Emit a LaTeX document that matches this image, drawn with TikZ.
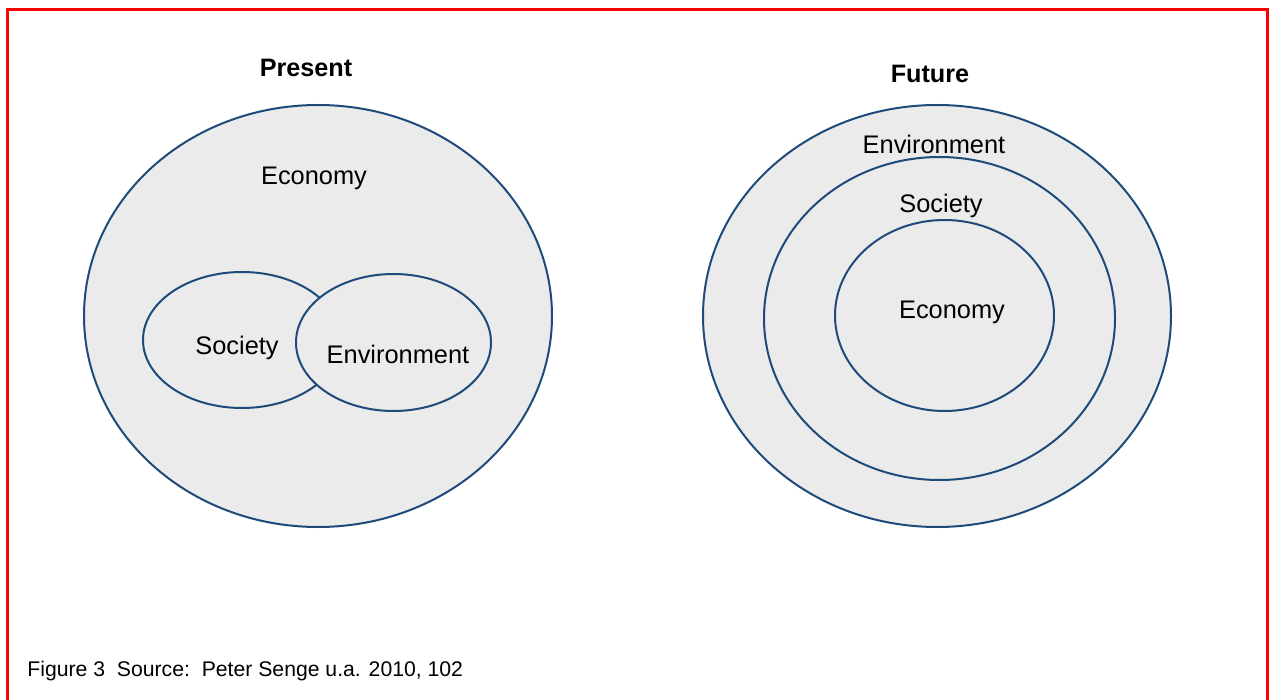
\documentclass[tikz,border=0pt]{standalone}
\usepackage{fontspec}
\setmainfont{Liberation Sans}
\usetikzlibrary{shapes.geometric}
\definecolor{ringblue}{RGB}{31,75,122}
\definecolor{ringfill}{RGB}{235,235,235}

\begin{document}
\begin{tikzpicture}[x=0.5pt,y=-0.5pt]
\tikzstyle{ring}=[draw=ringblue,fill=ringfill,line width=1pt,shape=ellipse,inner sep=0pt];
\tikzstyle{ringtext}=[inner sep=0pt,font=\fontsize{12.7}{15}\selectfont];
\tikzstyle{heading}=[inner sep=0pt,font=\bfseries\fontsize{12.6}{15}\selectfont];
\useasboundingbox (0,0) rectangle (1269,700);
\draw[red,line width=1.5pt] (7.5,720) -- (7.5,9.5) -- (1267.5,9.5) -- (1267.5,720);

% present
\node[heading] (present) at (306,68) {Present};
\node[ring,minimum width=234pt,minimum height=211pt] (economy) at (318,316) {};
\node[ring,minimum width=99pt,minimum height=68pt] (society) at (242,340) {};
\node[ring,minimum width=97.5pt,minimum height=68.5pt] (environment) at (393.5,342.5) {};
\node[ringtext] (economytext) at (314,178) {Economy};
\node[ringtext] (societytext) at (237,348) {Society};
\node[ringtext] (environmenttext) at (398,354) {Environment};

% future
\node[heading] (future) at (930,74) {Future};
\node[ring,minimum width=234pt,minimum height=211pt] (outer) at (937,316) {};
\node[ring,minimum width=175.5pt,minimum height=161.5pt] (middle) at (939.5,318.5) {};
\node[ring,minimum width=109.5pt,minimum height=95.5pt] (inner) at (944.5,315.5) {};
\node[ringtext] (outertext) at (934,144) {Environment};
\node[ringtext] (middletext) at (941,206) {Society};
\node[ringtext] (innertext) at (952,312) {Economy};

\node[anchor=base west,inner sep=0pt,font=\fontsize{10.6}{13}\selectfont] (caption) at (27,676)
  {Figure 3\ \ Source:\ \ Peter Senge u.a. 2010, 102};
\end{tikzpicture}
\end{document}
